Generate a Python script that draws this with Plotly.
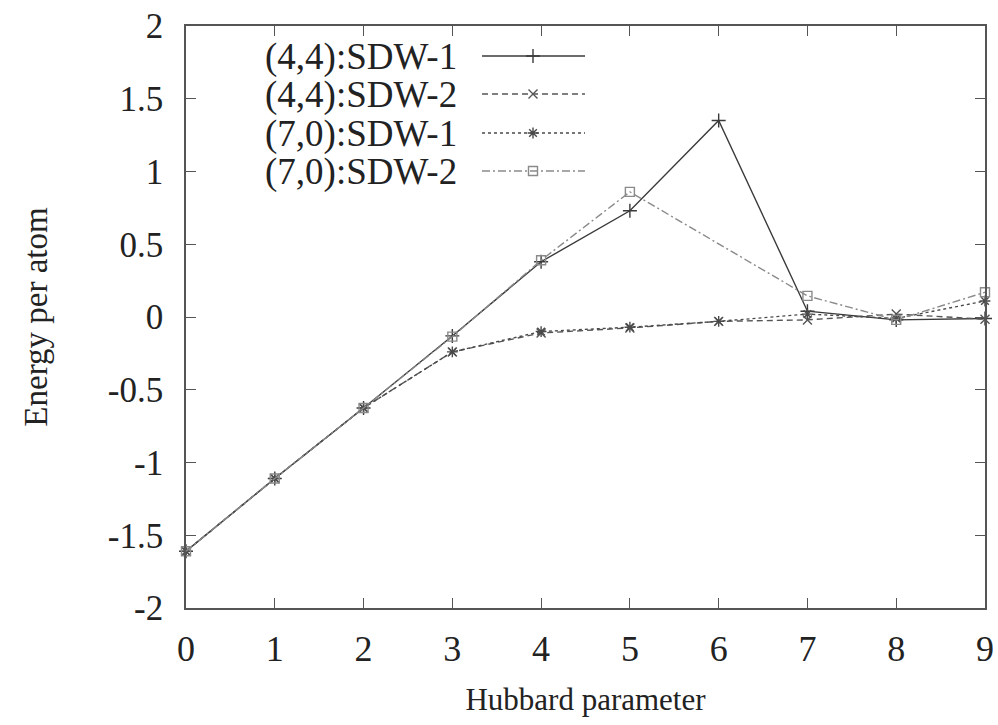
import plotly.graph_objects as go

# ---- data ----
hubbard = [0, 1, 2, 3, 4, 5, 6, 7, 8, 9]
sdw1_44 = [-1.61, -1.11, -0.625, -0.13, 0.38, 0.73, 1.35, 0.04, -0.02, -0.01]
sdw2_44 = [-1.61, -1.11, -0.625, -0.24, -0.11, -0.075, -0.03, -0.02, 0.02, -0.015]
sdw1_70 = [-1.61, -1.11, -0.625, -0.24, -0.10, -0.07, -0.03, 0.02, -0.01, 0.11]
sdw2_70 = [-1.61, -1.11, -0.625, -0.135, 0.39, 0.86, None, 0.145, -0.02, 0.17]

names = ["(4,4):SDW-1", "(4,4):SDW-2", "(7,0):SDW-1", "(7,0):SDW-2"]
series = [sdw1_44, sdw2_44, sdw1_70, sdw2_70]
x_ticks = list(range(0, 10))
y_ticks = [-2, -1.5, -1, -0.5, 0, 0.5, 1, 1.5, 2]
y_tick_text = ["-2", "-1.5", "-1", "-0.5", "0", "0.5", "1", "1.5", "2"]

# ---- styles ----
colors = ["#3a3a3a", "#555555", "#4a4a4a", "#8a8a8a"]
dashes = ["solid", "6px,4px", "3px,3px", "8px,3px,2px,3px"]
symbols = ["cross-thin-open", "x-thin-open", "asterisk-open", "square-open"]
msizes = [10, 9, 9, 9]

FONT = "Liberation Serif"
fig = go.Figure()

for nm, ys, c, d, s, ms in zip(names, series, colors, dashes, symbols, msizes):
    fig.add_trace(go.Scatter(
        x=hubbard, y=ys, name=nm, mode="lines+markers", connectgaps=True,
        line=dict(color=c, width=1.4, dash=d),
        marker=dict(symbol=s, size=ms, color=c, line=dict(color=c, width=1.4)),
        showlegend=False, cliponaxis=False,
    ))

# ---- manual gnuplot-style legend (text right, sample to the right) ----
row_y = [56, 94, 133, 171]
for i, (nm, c, d, s, ms) in enumerate(zip(names, colors, dashes, symbols, msizes)):
    fig.add_trace(go.Scatter(
        x=[482, 585], y=[row_y[i], row_y[i]], mode="lines",
        line=dict(color=c, width=1.4, dash=d), xaxis="x2", yaxis="y2",
        showlegend=False, hoverinfo="skip"))
    fig.add_trace(go.Scatter(
        x=[533], y=[row_y[i]], mode="markers",
        marker=dict(symbol=s, size=ms, color=c, line=dict(color=c, width=1.4)),
        xaxis="x2", yaxis="y2", showlegend=False, hoverinfo="skip"))
    fig.add_annotation(x=459, y=row_y[i] + 1, xref="x2", yref="y2", text=nm,
                       showarrow=False, xanchor="right", yanchor="middle",
                       font=dict(family=FONT, size=37, color="#222"))

fig.update_layout(
    width=998, height=725,
    margin=dict(l=186, r=13, t=26, b=117),
    paper_bgcolor="white", plot_bgcolor="white",
    font=dict(family=FONT, size=35, color="#222"),
    xaxis=dict(range=[0, 9], tickvals=x_ticks, ticks="inside", ticklen=10,
               tickwidth=1.2, tickcolor="#555", showline=True, linecolor="#555",
               linewidth=1.5, mirror="allticks", showgrid=False, zeroline=False,
               ticklabelstandoff=8, automargin=False,
               tickfont=dict(family=FONT, size=36),
               title=dict(text="Hubbard parameter", standoff=20,
                          font=dict(family=FONT, size=31))),
    yaxis=dict(range=[-2, 2], tickvals=y_ticks, ticktext=y_tick_text,
               ticks="inside", ticklen=10, tickwidth=1.2, tickcolor="#555",
               showline=True, linecolor="#555", linewidth=1.5, mirror="allticks",
               showgrid=False, zeroline=False, ticklabelstandoff=14,
               automargin=False, tickfont=dict(family=FONT, size=35),
               title=dict(text="Energy per atom", standoff=50,
                          font=dict(family=FONT, size=33))),
    xaxis2=dict(range=[186, 985], overlaying="x", visible=False, fixedrange=True),
    yaxis2=dict(range=[608, 26], overlaying="y", visible=False, fixedrange=True),
)

fig.write_html(
    "out.html",
    config={"displayModeBar": False},
    post_script="document.body.style.margin='0';document.body.style.overflow='hidden';",
)
